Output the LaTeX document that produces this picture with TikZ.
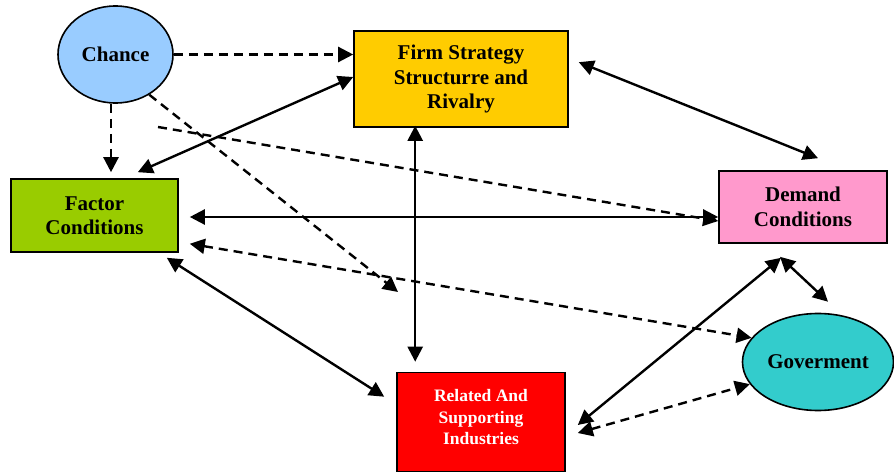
\documentclass[tikz,border=0pt]{standalone}
\usepackage{fontspec}
\setmainfont{Liberation Serif}
\usetikzlibrary{arrows.meta,calc,shapes.geometric}

\definecolor{chancecol}{HTML}{99CCFF}
\definecolor{firmcol}{HTML}{FFCC00}
\definecolor{factorcol}{HTML}{99CC00}
\definecolor{demandcol}{HTML}{FF99CC}
\definecolor{govcol}{HTML}{33CCCC}
\definecolor{relcol}{HTML}{FF0000}

\tikzset{
  box/.style={draw=black, line width=1.6pt, rectangle, inner sep=0pt, align=center,
    font=\fontsize{21}{24.5}\selectfont\bfseries},
  oval/.style={draw=black, line width=1.6pt, ellipse, inner sep=0pt, align=center,
    font=\fontsize{21}{24.5}\selectfont\bfseries},
  tip/.tip={Triangle[length=15pt,width=15pt]},
  both/.style={line width=2.4pt, tip-tip},
  oneway/.style={line width=2.4pt, -tip},
  dboth/.style={line width=2.4pt, dash pattern=on 9pt off 6pt, tip-tip},
  doneway/.style={line width=2.4pt, dash pattern=on 9pt off 6pt, -tip},
}

\begin{document}
\begin{tikzpicture}[x=1pt, y=-1pt]
\useasboundingbox (0,0) rectangle (894,473);

% the five determinants and chance
\node[oval, fill=chancecol, minimum width=115pt, minimum height=97pt] (chance) at (115.5,54.5) {Chance};
\node[box, fill=firmcol, minimum width=214pt, minimum height=96pt] (firm) at (461,79)
  {Firm Strategy\\Structurre and\\Rivalry};
\node[box, fill=factorcol, minimum width=167pt, minimum height=73pt] (factor) at (94.5,215.5)
  {Factor\\Conditions};
\node[box, fill=demandcol, minimum width=168pt, minimum height=72pt] (demand) at (803,207)
  {Demand\\Conditions};
\node[oval, fill=govcol, minimum width=151pt, minimum height=97pt] (gov) at (818,362) {Goverment};
\node[box, fill=relcol, minimum width=168pt, minimum height=99pt, text=white,
  font=\fontsize{17.5}{21.5}\selectfont\bfseries] (related) at (481,422)
  {Related And\\Supporting\\Industries\\[-12pt]};

% free ends of the two dashed chance lines
\coordinate (chanceend) at (398,292);
\coordinate (chancestart) at (158,127);

% influence of chance
\draw[doneway] (chance.east) -- (chance.east -| firm.west);
\draw[doneway] (chance.south -| 111,0) -- ($(factor.north -| 111,0)+(0,-6)$);
\draw[doneway] (chance.-50) -- (chanceend);
\draw[doneway] (chancestart) -- ($(demand.west)+(0,14)$);

% links between the determinants
\draw[both] ($(factor.north east)+(-41,-6)$) -- ($(firm.west)+(0,-2)$);
\draw[both] ($(factor.east)+(11,1.5)$) -- ($(demand.west)+(0,10)$);
\draw[dboth] ($(factor.south east)+(11,-9)$) -- (gov.160);
\draw[both] ($(factor.south east)+(-12,5)$) -- ($(related.north west)+(-12,25)$);
\draw[both] ($(firm.south west)+(62,-2)$) -- ($(related.north west)+(19,-10)$);
\draw[both] ($(firm.north east)+(10,32)$) -- ($(demand.north)+(15,-12)$);
\draw[both] ($(demand.south)+(-23,13)$) -- ($(gov.north)+(10,-11)$);
\draw[both] ($(demand.south)+(-22,14)$) -- ($(related.east)+(12,3)$);
\draw[dboth] ($(related.east)+(12,11)$) -- (gov.-162);
\end{tikzpicture}
\end{document}
